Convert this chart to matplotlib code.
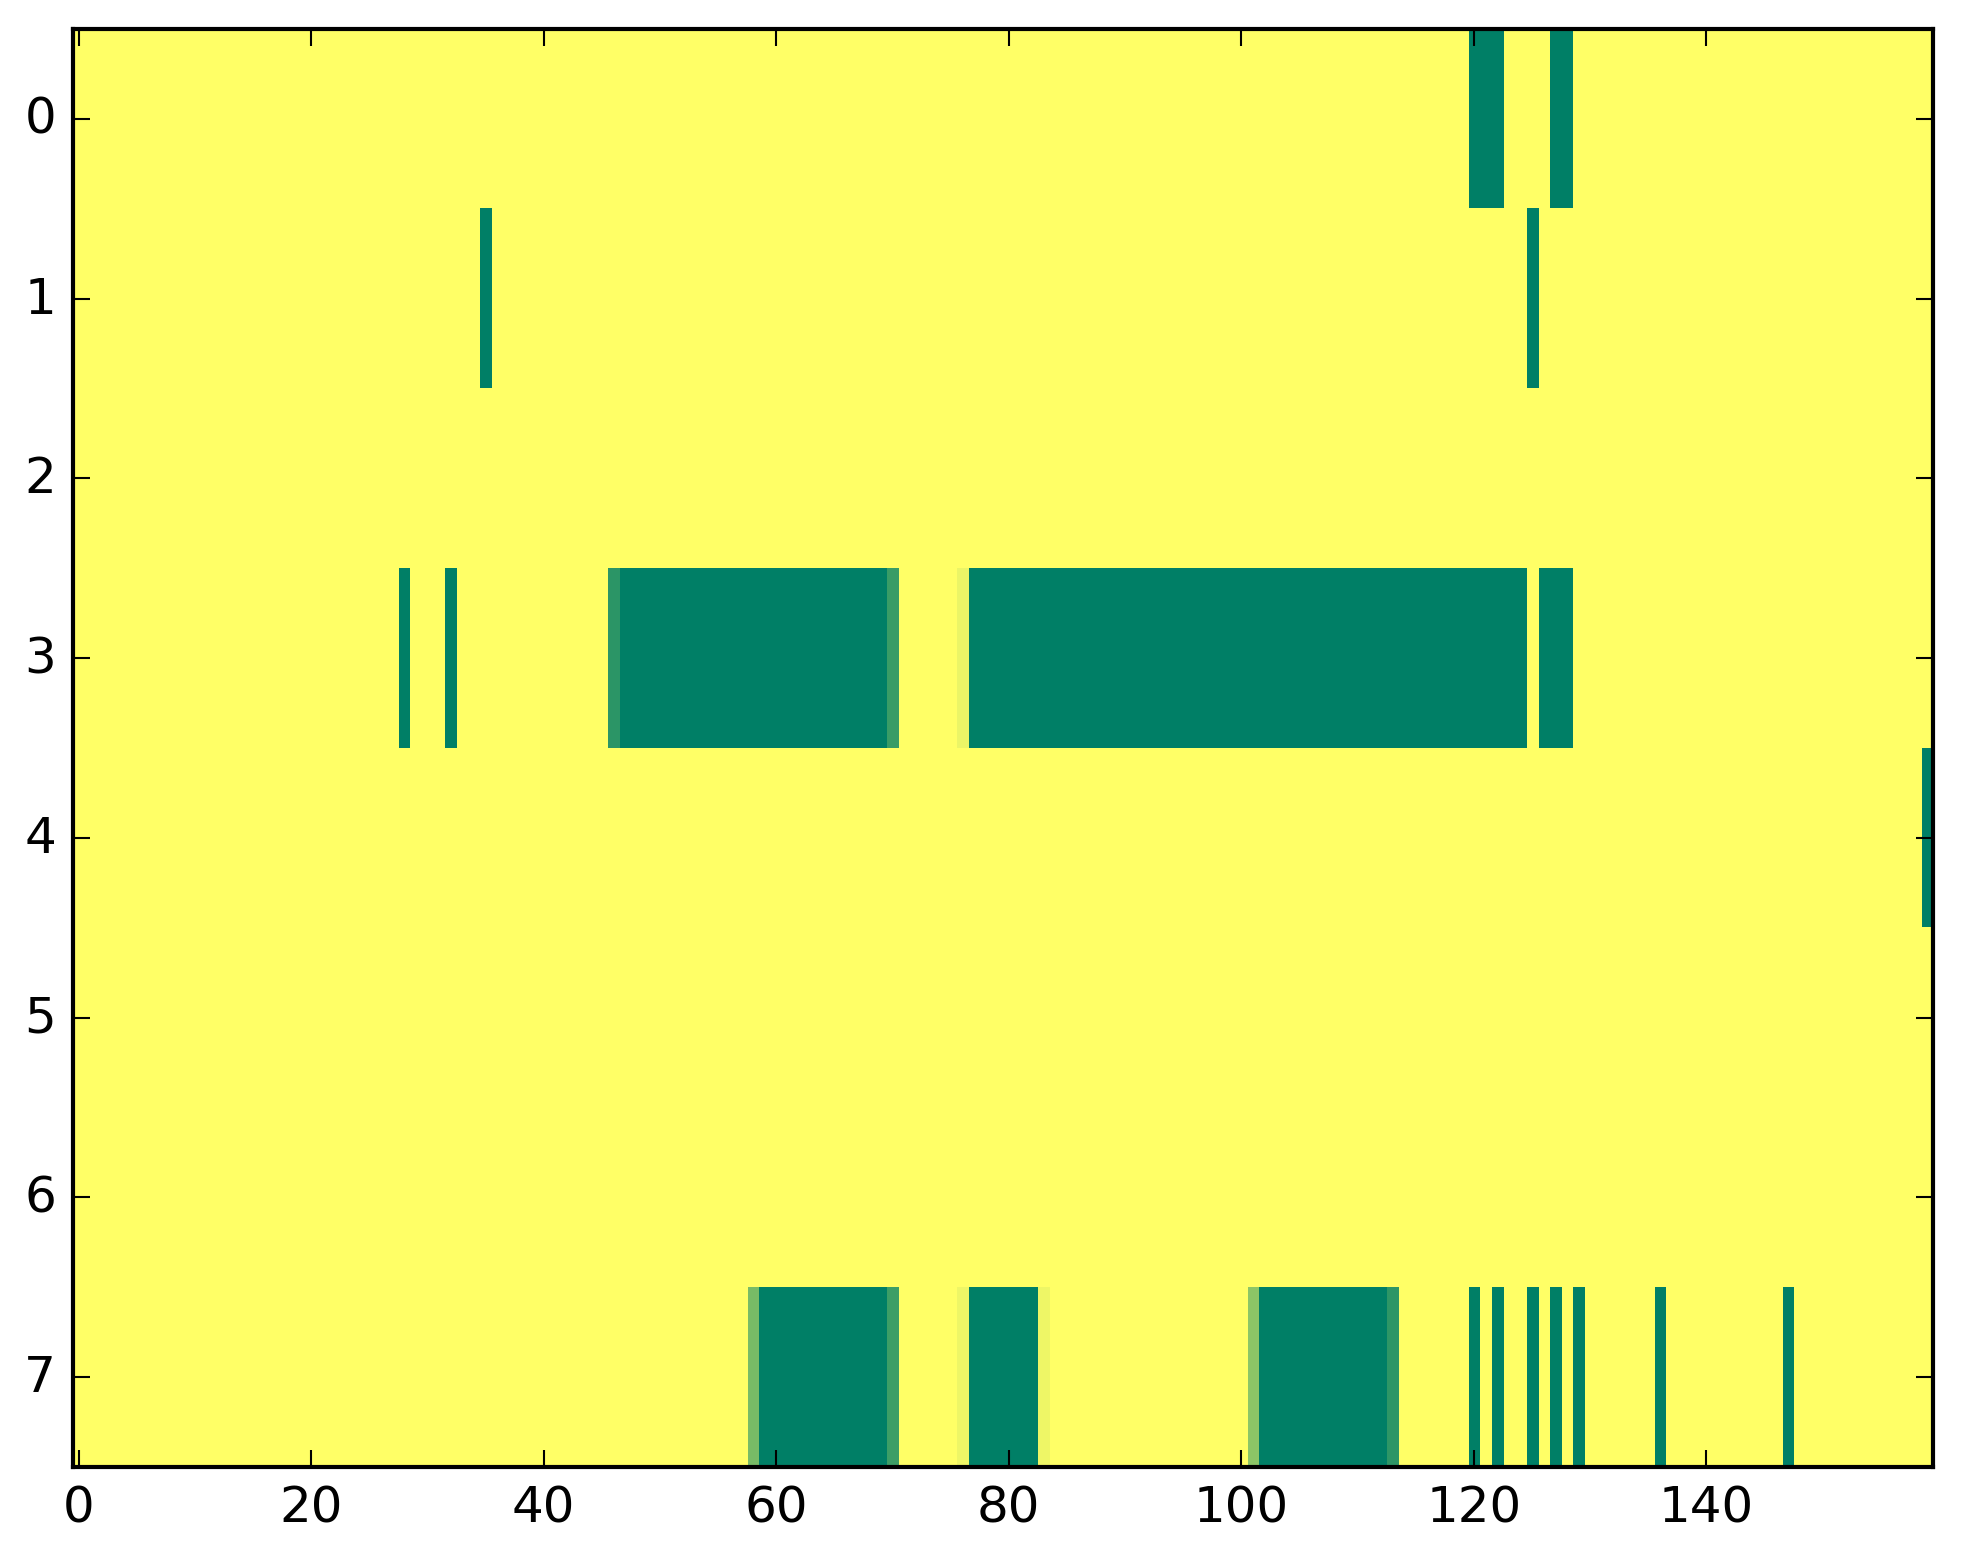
import numpy as np
import matplotlib
matplotlib.use("Agg")
import matplotlib.pyplot as plt

n_rows = 8
n_cols = 160

# (row, first_col, last_col, value) runs of non-zero cells
full_runs = [
    (0, 120, 122, 1.0), (0, 127, 128, 1.0),
    (1, 35, 35, 1.0), (1, 125, 125, 1.0),
    (3, 28, 28, 1.0), (3, 32, 32, 1.0), (3, 47, 69, 1.0),
    (3, 77, 124, 1.0), (3, 126, 128, 1.0),
    (4, 159, 159, 1.0),
    (7, 59, 69, 1.0), (7, 77, 82, 1.0), (7, 102, 112, 1.0),
    (7, 120, 120, 1.0), (7, 122, 122, 1.0), (7, 125, 125, 1.0),
    (7, 127, 127, 1.0), (7, 129, 129, 1.0), (7, 136, 136, 1.0),
    (7, 147, 147, 1.0),
]
partial_cells = [
    (3, 46, 0.83), (3, 70, 0.77), (3, 76, 0.08),
    (7, 58, 0.53), (7, 70, 0.76), (7, 76, 0.07), (7, 83, 0.07),
    (7, 101, 0.45), (7, 113, 0.82),
]

data = np.zeros((n_rows, n_cols))
for r, c0, c1, v in full_runs:
    data[r, c0:c1 + 1] = v
for r, c, v in partial_cells:
    data[r, c] = v

plt.style.use("classic")
fig = plt.figure(figsize=(1963 / 300, 1564 / 300), dpi=300)
ax = fig.add_axes([72.7 / 1963, 96 / 1564, 1860.3 / 1963, 1438 / 1564])
ax.imshow(data, cmap="summer_r", vmin=0, vmax=1, aspect="auto",
          interpolation="nearest")
ax.set_xticks([0, 20, 40, 60, 80, 100, 120, 140])
ax.set_yticks(range(8))
ax.set_xlim(-0.5, n_cols - 0.5)
ax.set_ylim(n_rows - 0.5, -0.5)
fig.savefig("out.png", dpi=300)
